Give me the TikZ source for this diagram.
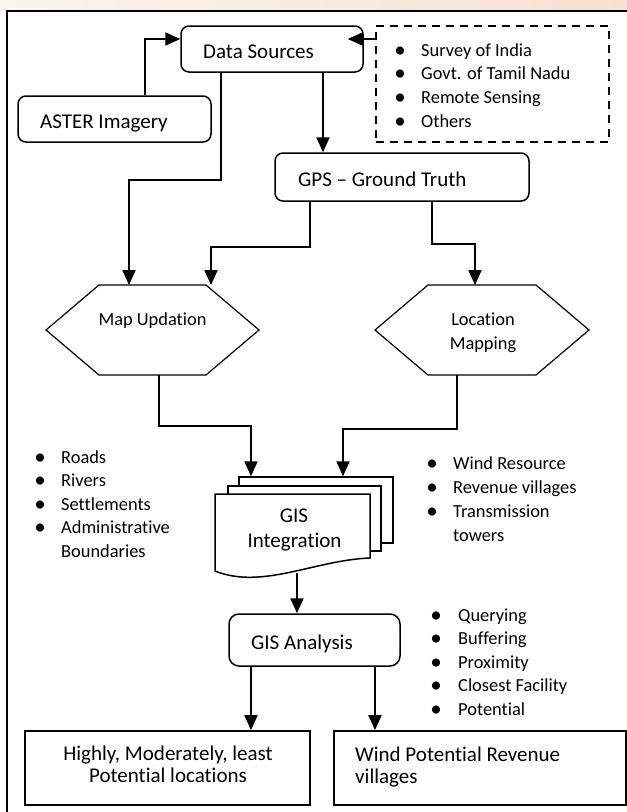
\documentclass[tikz,border=0pt]{standalone}
\usepackage{fontspec}
\setmainfont{Carlito}[Ligatures=CommonOff]
\usetikzlibrary{arrows.meta,calc}
\newcommand\fsz[2]{\fontsize{#1}{#2}\selectfont}
\definecolor{wmA}{RGB}{250,245,238}
\definecolor{wmB}{RGB}{238,233,228}
\definecolor{wmC}{RGB}{246,226,208}
\begin{document}
\begin{tikzpicture}[x=1pt,y=-1pt,
  conn/.style={line width=2pt,-{Triangle[length=15pt,width=13pt]}},
  rbox/.style={draw,line width=1.5pt,rounded corners=8pt,inner sep=0pt},
  sbox/.style={draw,line width=1.8pt,inner sep=0pt},
  dbox/.style={draw,line width=2pt,dash pattern=on 8pt off 6pt,inner sep=0pt},
  ghost/.style={inner sep=0pt,outer sep=0pt},
  hex/.style={line width=1.2pt,line join=miter},
  page/.style={draw,fill=white,line width=1.5pt,inner sep=0pt},
  big/.style={font=\fsz{21}{25},inner sep=0pt,anchor=base},
  bigw/.style={big,anchor=base west},
  mid/.style={font=\fsz{18.4}{22},inner sep=0pt,anchor=base},
  btxt/.style={font=\fsz{18.4}{22},inner sep=0pt,anchor=base west},
  bul/.style={font=\fsz{23}{26},inner sep=0pt,anchor=base,yshift=-1.3pt}
]
\useasboundingbox (0,0) rectangle (627,812);
\clip (0,0) rectangle (627,812);
\fill[white] (0,0) rectangle (627,812);
\shade[left color=wmA, middle color=wmB, right color=wmC] (0,0) rectangle (627,10.5);
% outer frame
\draw[line width=2pt] (7,840) -- (7,11) -- (660,11);

% boxes
\node[rbox,minimum width=182pt,minimum height=46pt] (ds) at (272,49) {};
\node[rbox,minimum width=193pt,minimum height=46pt] (aster) at (114.5,119) {};
\node[dbox,minimum width=233pt,minimum height=116pt] (src) at (492.5,84) {};
\node[rbox,minimum width=254pt,minimum height=48pt] (gps) at (402,177) {};
\node[ghost,minimum width=213pt,minimum height=90pt] (mu) at (152.5,330) {};
\node[ghost,minimum width=214pt,minimum height=90pt] (lm) at (482,330) {};
\draw[hex] (mu.west) -- ([xshift=53pt]mu.north west) -- ([xshift=-53pt]mu.north east) -- (mu.east) -- ([xshift=-53pt]mu.south east) -- ([xshift=53pt]mu.south west) -- cycle;
\draw[hex] (lm.west) -- ([xshift=53pt]lm.north west) -- ([xshift=-53pt]lm.north east) -- (lm.east) -- ([xshift=-53pt]lm.south east) -- ([xshift=53pt]lm.south west) -- cycle;

% document stack
\node[page,minimum width=154pt,minimum height=66pt] (gisC) at (316,510) {};
\node[page,minimum width=153pt,minimum height=65pt] (gisB) at (304.5,518.5) {};
\node[ghost,minimum width=155pt,minimum height=77pt] (gisA) at (292.5,532.5) {};
\draw[page] (gisA.south west) -- (gisA.north west) -- (gisA.north east) -- ([yshift=13pt]gisA.south east) .. controls (315,560) and (262,590) .. (gisA.south west) -- cycle;

\node[rbox,rounded corners=10pt,minimum width=171pt,minimum height=52pt] (ga) at (314.5,640) {};
\node[sbox,minimum width=285pt,minimum height=74pt] (f1) at (167.5,768) {};
\node[sbox,minimum width=292pt,minimum height=74pt] (f2) at (480,768) {};

% connectors
\draw[conn] ([xshift=30.5pt]aster.north) |- ([yshift=10pt]ds.west);
\draw[conn,shorten >=-16pt] ([yshift=45pt]src.west) -- ([yshift=10pt]ds.east);
\draw[conn] ([xshift=-51pt]ds.south) -- ++(0,107) -| ([xshift=-23.5pt]mu.north);
\draw[conn] ([xshift=51pt]ds.south) -- ([xshift=-79pt]gps.north);
\draw[conn] ([xshift=-92pt]gps.south) -- ++(0,45) -| ([xshift=58.5pt]mu.north);
\draw[conn] ([xshift=30pt]gps.south) -- ++(0,42) -| ([xshift=-7pt]lm.north);
\draw[conn] ([xshift=6.5pt]mu.south) -- ++(0,51) -| ([xshift=-65pt]gisC.north);
\draw[conn] ([xshift=-25pt]lm.south) -- ++(0,54) -| ([xshift=27pt]gisC.north);
\draw[conn] ([xshift=4.5pt,yshift=-2pt]gisA.south) -- ([xshift=-17.5pt]ga.north);
\draw[conn] ([xshift=-63.5pt]ga.south) -- ([xshift=83.5pt]f1.north);
\draw[conn] ([xshift=60.5pt]ga.south) -- ([xshift=-105pt]f2.north);

% texts
\node[bigw] (tds) at (203,58) {Data Sources};
\node[bigw] (tast) at (40,128) {ASTER Imagery};
\node[bigw] (tgps) at (298,186) {GPS – Ground Truth};
\node[mid] (tmu) at (152.5,325) {Map Updation};
\node[mid] (tlm1) at (483,325) {Location};
\node[mid] (tlm2) at (483,349) {Mapping};
\node[big] (tgis1) at (294,522) {GIS};
\node[big] (tgis2) at (294.5,547) {Integration};
\node[bigw] (tga) at (251,649) {GIS Analysis};
\node[big] (tf1a) at (168,760) {Highly, Moderately, least};
\node[big] (tf1b) at (168,782) {Potential locations};
\node[bigw] (tf2a) at (355,761) {Wind Potential Revenue};
\node[bigw] (tf2b) at (355,783) {villages};

% bullet lists
\foreach \t [count=\i] in {Survey of India,Govt. of Tamil Nadu,Remote Sensing,Others}{
  \node[bul] (sb\i) at (400,{56+23.67*(\i-1)}) {•};
  \node[btxt] (st\i) at (421,{56+23.67*(\i-1)}) {\t};
}
\foreach \t [count=\i] in {Roads,Rivers,Settlements,Administrative}{
  \node[bul] (lb\i) at (40,{463+23.5*(\i-1)}) {•};
  \node[btxt] (lt\i) at (61,{463+23.5*(\i-1)}) {\t};
}
\node[btxt] (lt5) at (61,557) {Boundaries};
\foreach \t [count=\i] in {Wind Resource,Revenue villages,Transmission}{
  \node[bul] (rb\i) at (432,{469+24*(\i-1)}) {•};
  \node[btxt] (rt\i) at (453,{469+24*(\i-1)}) {\t};
}
\node[btxt] (rt4) at (453,541) {towers};
\foreach \t [count=\i] in {Querying,Buffering,Proximity,Closest Facility,Potential}{
  \node[bul] (qb\i) at (436,{621+23.5*(\i-1)}) {•};
  \node[btxt] (qt\i) at (458,{621+23.5*(\i-1)}) {\t};
}
\end{tikzpicture}
\end{document}
